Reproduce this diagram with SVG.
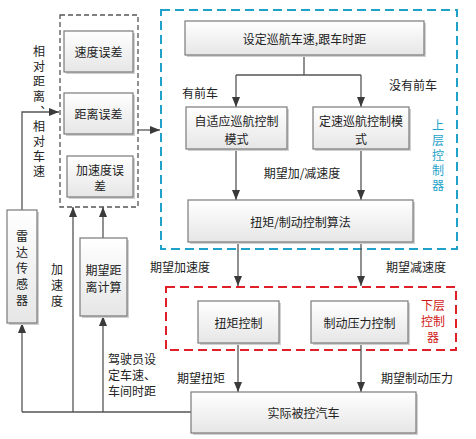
<svg xmlns="http://www.w3.org/2000/svg" width="476" height="439" viewBox="0 0 476 439">
<defs>
<linearGradient id="g" x1="0" y1="0" x2="0" y2="1">
<stop offset="0" stop-color="#ffffff"/>
<stop offset="1" stop-color="#e6e6e6"/>
</linearGradient>
<marker id="ah" markerUnits="userSpaceOnUse" markerWidth="10" markerHeight="10" viewBox="0 0 10 10" refX="10" refY="5" orient="auto">
<path d="M0,1 L10,5 L0,9 Z" fill="#3a3a3a"/>
</marker>
</defs>
<style>
.box{fill:url(#g);stroke:#7a7a7a;stroke-width:1.2}
.sh{fill:#d0d0d0}
.t{font-family:"Noto Sans CJK SC","Noto Sans",sans-serif;font-size:12px;fill:#222;text-anchor:middle;dominant-baseline:central}
.v{font-family:"Noto Sans CJK SC","Noto Sans",sans-serif;font-size:12px;fill:#222;text-anchor:middle;writing-mode:vertical-rl}
.c{fill:none;stroke:#555;stroke-width:1.3}
.a{marker-end:url(#ah)}
.blue{fill:#1ea2c9}
.red{fill:#d01818}
</style>
<rect width="476" height="439" fill="#ffffff"/>

<g id="upper-group">
<rect x="161" y="10" width="296" height="239" fill="none" stroke="#1ea2c9" stroke-width="2" stroke-dasharray="9,5"/>
<text class="v blue" x="438" y="157" letter-spacing="3">上层控制器</text>
</g>
<g id="lower-group">
<rect x="166" y="287" width="290" height="63" fill="none" stroke="#e02028" stroke-width="2" stroke-dasharray="9,5"/>
<text class="t red" x="433" y="304"><tspan x="433">下层</tspan><tspan x="433" dy="16">控制</tspan><tspan x="433" dy="16">器</tspan></text>
</g>
<g id="error-group">
<rect x="60" y="15" width="78" height="192" fill="none" stroke="#555" stroke-width="1.3" stroke-dasharray="5,3"/>
</g>

<g id="connectors">
<path class="c" d="M304,55 V75 M236,75 H361"/>
<path class="c a" d="M236,75 V107"/>
<path class="c a" d="M361,75 V107"/>
<path class="c a" d="M236,149 V200"/>
<path class="c a" d="M361,149 V200"/>
<path class="c a" d="M238,242 V286"/>
<path class="c a" d="M361,242 V286"/>
<path class="c a" d="M238,343 V392"/>
<path class="c a" d="M361,343 V392"/>
<path class="c" d="M191,412 H22"/>
<path class="c a" d="M22,412 V323"/>
<path class="c a" d="M73,412 V207"/>
<path class="c a" d="M103,412 V316"/>
<path class="c a" d="M103,238 V207"/>
<path class="c a" d="M22,210 V112 H59"/>
<path class="c a" d="M138,130 H160"/>
</g>

<g id="labels">
<text class="t" x="200" y="92">有前车</text>
<text class="t" x="413" y="84">没有前车</text>
<text class="t" x="302" y="172">期望加/减速度</text>
<text class="t" x="180" y="266">期望加速度</text>
<text class="t" x="416" y="266">期望减速度</text>
<text class="t" x="201" y="377">期望扭矩</text>
<text class="t" x="417" y="377">期望制动压力</text>
<text class="v" x="57" y="287" letter-spacing="4">加速度</text>
<text class="t" x="108" y="358" style="text-anchor:start"><tspan x="108">驾驶员设</tspan><tspan x="108" dy="16">定车速、</tspan><tspan x="108" dy="16">车间时距</tspan></text>
<text class="v" x="39" y="113" letter-spacing="3">相对距离、相对车速</text>
</g>

<g id="n-speed-err">
<rect class="sh" x="66" y="33" width="69" height="41"/>
<rect class="box" x="64" y="31" width="69" height="41"/>
<text class="t" x="98.5" y="51.5">速度误差</text>
</g>
<g id="n-dist-err">
<rect class="sh" x="66" y="95" width="69" height="41"/>
<rect class="box" x="64" y="93" width="69" height="41"/>
<text class="t" x="98.5" y="113.5">距离误差</text>
</g>
<g id="n-acc-err">
<rect class="sh" x="69" y="158" width="66" height="41"/>
<rect class="box" x="67" y="156" width="66" height="41"/>
<text class="t" x="100" y="169"><tspan x="100">加速度误</tspan><tspan x="100" dy="16">差</tspan></text>
</g>
<g id="n-radar">
<rect class="sh" x="9" y="212" width="30" height="113"/>
<rect class="box" x="7" y="210" width="30" height="113"/>
<text class="v" x="22" y="270" letter-spacing="4">雷达传感器</text>
</g>
<g id="n-desired-dist">
<rect class="sh" x="82" y="240" width="47" height="78"/>
<rect class="box" x="80" y="238" width="47" height="78"/>
<text class="t" x="103.5" y="269"><tspan x="103.5">期望距</tspan><tspan x="103.5" dy="17">离计算</tspan></text>
</g>
<g id="n-set">
<rect class="sh" x="187" y="23" width="239" height="34"/>
<rect class="box" x="185" y="21" width="239" height="34"/>
<text class="t" x="304.5" y="38">设定巡航车速,跟车时距</text>
</g>
<g id="n-acc-mode">
<rect class="sh" x="188" y="109" width="101" height="42"/>
<rect class="box" x="186" y="107" width="101" height="42"/>
<text class="t" x="236.5" y="120"><tspan x="236.5">自适应巡航控制</tspan><tspan x="236.5" dy="18">模式</tspan></text>
</g>
<g id="n-cc-mode">
<rect class="sh" x="315" y="109" width="96" height="42"/>
<rect class="box" x="313" y="107" width="96" height="42"/>
<text class="t" x="361" y="120"><tspan x="361">定速巡航控制模</tspan><tspan x="361" dy="18">式</tspan></text>
</g>
<g id="n-algo">
<rect class="sh" x="190" y="202" width="225" height="42"/>
<rect class="box" x="188" y="200" width="225" height="42"/>
<text class="t" x="300.5" y="221">扭矩/制动控制算法</text>
</g>
<g id="n-torque">
<rect class="sh" x="200" y="303" width="81" height="42"/>
<rect class="box" x="198" y="301" width="81" height="42"/>
<text class="t" x="238.5" y="322">扭矩控制</text>
</g>
<g id="n-brake">
<rect class="sh" x="313" y="303" width="97" height="42"/>
<rect class="box" x="311" y="301" width="97" height="42"/>
<text class="t" x="359.5" y="322">制动压力控制</text>
</g>
<g id="n-car">
<rect class="sh" x="193" y="394" width="225" height="41"/>
<rect class="box" x="191" y="392" width="225" height="41"/>
<text class="t" x="303.5" y="412.5">实际被控汽车</text>
</g>
</svg>
